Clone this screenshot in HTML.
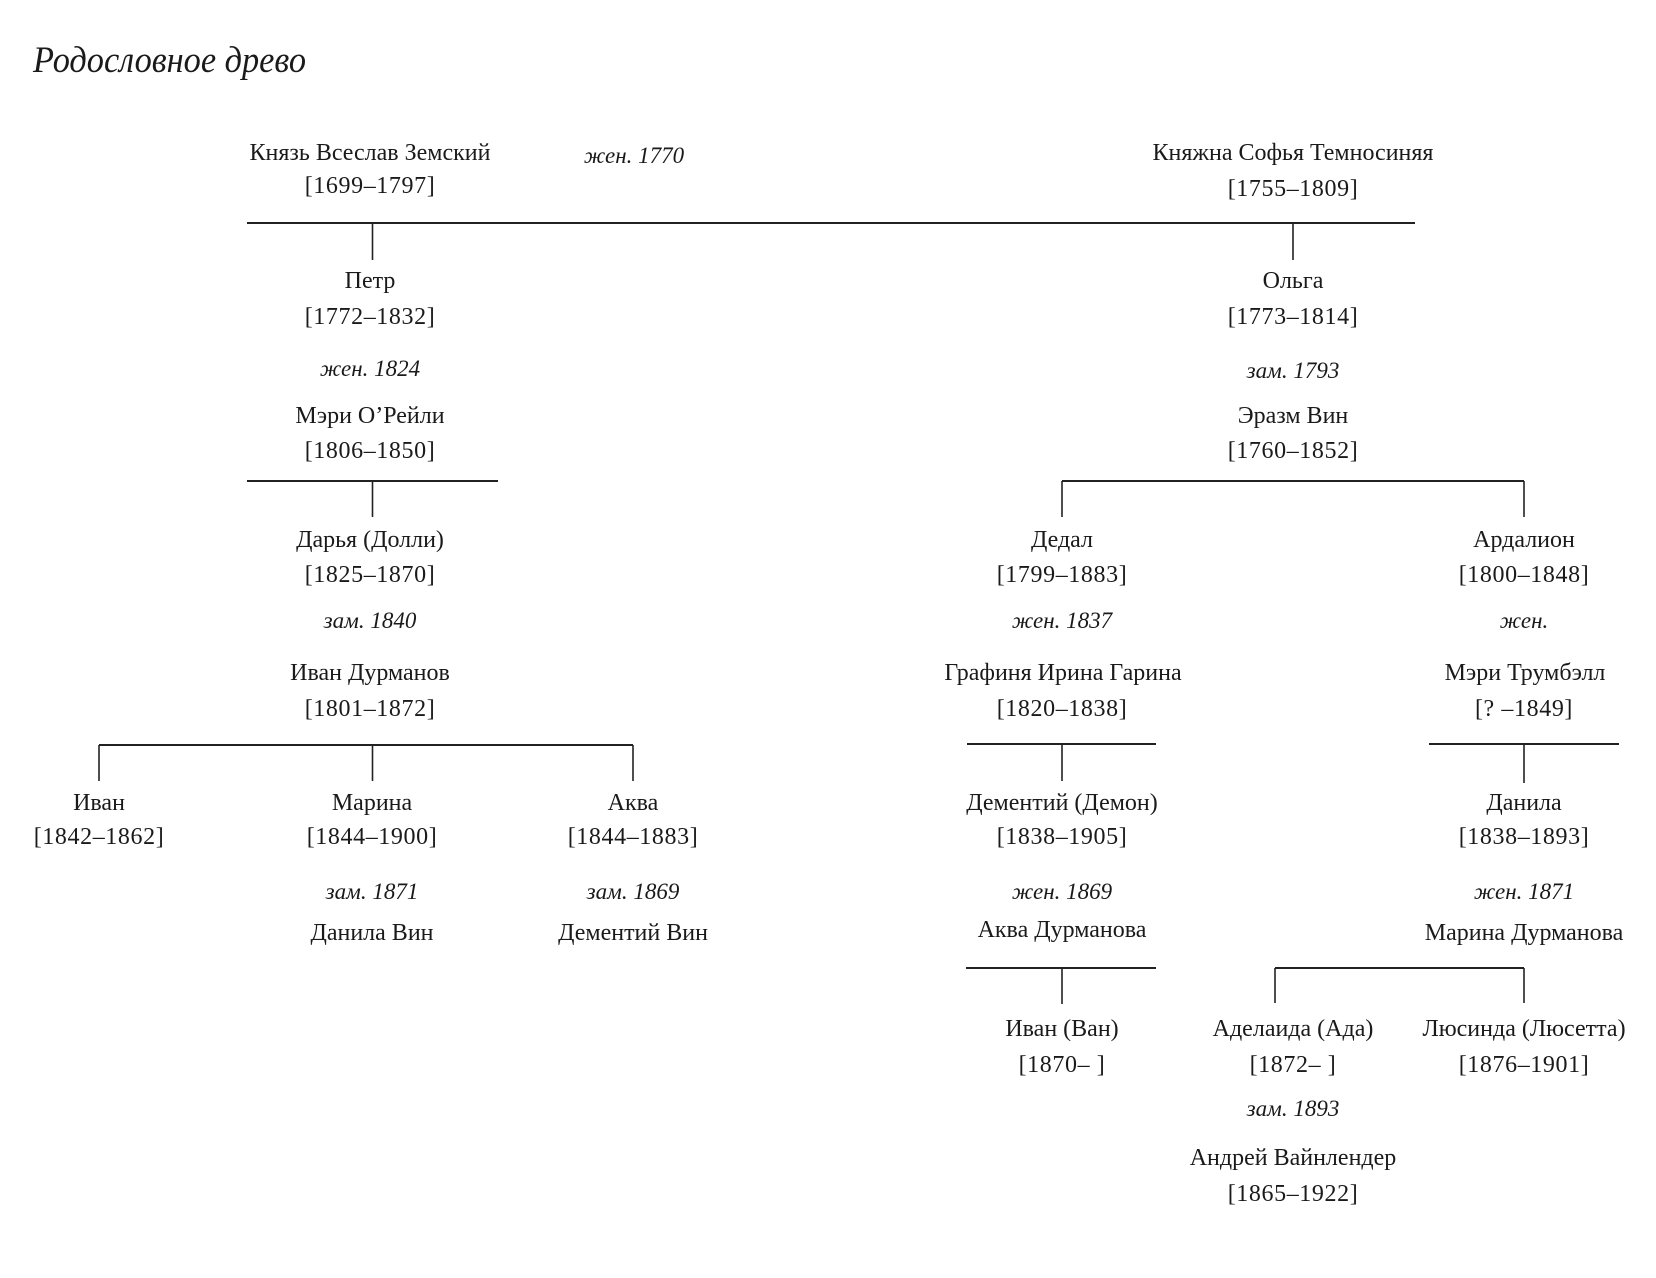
<!DOCTYPE html>
<html>
<head>
<meta charset="utf-8">
<style>
  html,body{margin:0;padding:0;background:#fff;}
  svg{display:block;}
  text{font-family:"Liberation Serif","DejaVu Serif",serif;fill:#1a1a1a;}
  .n{font-size:24px;text-anchor:middle;}
  .d{font-size:24px;text-anchor:middle;letter-spacing:0.6px;}
  .i{font-size:23px;font-style:italic;text-anchor:middle;}
  .h{stroke:#222;stroke-width:2;}
  .v{stroke:#222;stroke-width:1.6;}
</style>
</head>
<body>
<svg width="1656" height="1278" viewBox="0 0 1656 1278" xmlns="http://www.w3.org/2000/svg">
  <text x="33" y="72" textLength="273" lengthAdjust="spacingAndGlyphs" style="font-size:37px;font-style:italic;">Родословное древо</text>

  <!-- generation 0 -->
  <text class="n" x="370" y="160">Князь Всеслав Земский</text>
  <text class="d" x="370" y="193">[1699–1797]</text>
  <text class="i" x="634" y="163">жен. 1770</text>
  <text class="n" x="1293" y="160">Княжна Софья Темносиняя</text>
  <text class="d" x="1293" y="196">[1755–1809]</text>

  <line class="h" x1="247" y1="223" x2="1415" y2="223"/>
  <line class="v" x1="372.5" y1="223" x2="372.5" y2="260"/>
  <line class="v" x1="1293" y1="223" x2="1293" y2="260"/>

  <!-- generation 1 left -->
  <text class="n" x="370" y="288">Петр</text>
  <text class="d" x="370" y="324">[1772–1832]</text>
  <text class="i" x="370" y="376">жен. 1824</text>
  <text class="n" x="370" y="423">Мэри О’Рейли</text>
  <text class="d" x="370" y="458">[1806–1850]</text>
  <line class="h" x1="247" y1="481" x2="498" y2="481"/>
  <line class="v" x1="372.5" y1="481" x2="372.5" y2="517"/>

  <!-- generation 1 right -->
  <text class="n" x="1293" y="288">Ольга</text>
  <text class="d" x="1293" y="324">[1773–1814]</text>
  <text class="i" x="1293" y="378">зам. 1793</text>
  <text class="n" x="1293" y="423">Эразм Вин</text>
  <text class="d" x="1293" y="458">[1760–1852]</text>
  <line class="h" x1="1062" y1="481" x2="1524" y2="481"/>
  <line class="v" x1="1062" y1="481" x2="1062" y2="517"/>
  <line class="v" x1="1524" y1="481" x2="1524" y2="517"/>

  <!-- generation 2 left -->
  <text class="n" x="370" y="547">Дарья (Долли)</text>
  <text class="d" x="370" y="582">[1825–1870]</text>
  <text class="i" x="370" y="628">зам. 1840</text>
  <text class="n" x="370" y="680">Иван Дурманов</text>
  <text class="d" x="370" y="716">[1801–1872]</text>
  <line class="h" x1="99" y1="745" x2="633" y2="745"/>
  <line class="v" x1="99" y1="745" x2="99" y2="781"/>
  <line class="v" x1="372.5" y1="745" x2="372.5" y2="781"/>
  <line class="v" x1="633" y1="745" x2="633" y2="781"/>

  <!-- generation 2 right -->
  <text class="n" x="1062" y="547">Дедал</text>
  <text class="d" x="1062" y="582">[1799–1883]</text>
  <text class="i" x="1062" y="628">жен. 1837</text>
  <text class="n" x="1063" y="680">Графиня Ирина Гарина</text>
  <text class="d" x="1062" y="716">[1820–1838]</text>
  <line class="h" x1="967" y1="744" x2="1156" y2="744"/>
  <line class="v" x1="1062" y1="744" x2="1062" y2="781"/>

  <text class="n" x="1524" y="547">Ардалион</text>
  <text class="d" x="1524" y="582">[1800–1848]</text>
  <text class="i" x="1524" y="628">жен.</text>
  <text class="n" x="1525" y="680">Мэри Трумбэлл</text>
  <text class="d" x="1524" y="716">[? –1849]</text>
  <line class="h" x1="1429" y1="744" x2="1619" y2="744"/>
  <line class="v" x1="1524" y1="744" x2="1524" y2="783"/>

  <!-- generation 3 left -->
  <text class="n" x="99" y="810">Иван</text>
  <text class="d" x="99" y="844">[1842–1862]</text>

  <text class="n" x="372" y="810">Марина</text>
  <text class="d" x="372" y="844">[1844–1900]</text>
  <text class="i" x="372" y="899">зам. 1871</text>
  <text class="n" x="372" y="940">Данила Вин</text>

  <text class="n" x="633" y="810">Аква</text>
  <text class="d" x="633" y="844">[1844–1883]</text>
  <text class="i" x="633" y="899">зам. 1869</text>
  <text class="n" x="633" y="940">Дементий Вин</text>

  <!-- generation 3 right -->
  <text class="n" x="1062" y="810">Дементий (Демон)</text>
  <text class="d" x="1062" y="844">[1838–1905]</text>
  <text class="i" x="1062" y="899">жен. 1869</text>
  <text class="n" x="1062" y="937">Аква Дурманова</text>
  <line class="h" x1="966" y1="968" x2="1156" y2="968"/>
  <line class="v" x1="1062" y1="968" x2="1062" y2="1004"/>

  <text class="n" x="1524" y="810">Данила</text>
  <text class="d" x="1524" y="844">[1838–1893]</text>
  <text class="i" x="1524" y="899">жен. 1871</text>
  <text class="n" x="1524" y="940">Марина Дурманова</text>
  <line class="h" x1="1275" y1="968" x2="1524" y2="968"/>
  <line class="v" x1="1275" y1="968" x2="1275" y2="1003"/>
  <line class="v" x1="1524" y1="968" x2="1524" y2="1003"/>

  <!-- generation 4 -->
  <text class="n" x="1062" y="1036">Иван (Ван)</text>
  <text class="d" x="1062" y="1072">[1870– ]</text>

  <text class="n" x="1293" y="1036">Аделаида (Ада)</text>
  <text class="d" x="1293" y="1072">[1872– ]</text>
  <text class="i" x="1293" y="1116">зам. 1893</text>
  <text class="n" x="1293" y="1165">Андрей Вайнлендер</text>
  <text class="d" x="1293" y="1201">[1865–1922]</text>

  <text class="n" x="1524" y="1036">Люсинда (Люсетта)</text>
  <text class="d" x="1524" y="1072">[1876–1901]</text>
</svg>
</body>
</html>
